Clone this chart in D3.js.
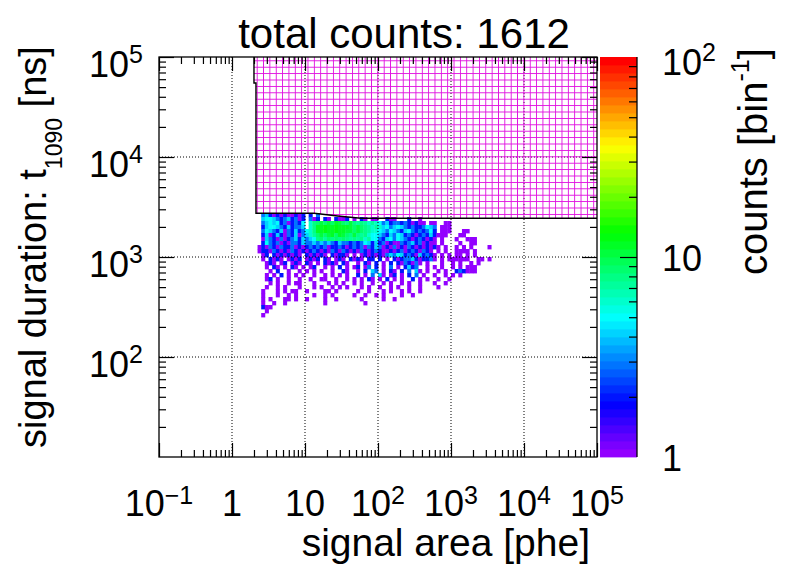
<!DOCTYPE html>
<html>
<head>
<meta charset="utf-8">
<script src="https://cdn.jsdelivr.net/npm/d3@7"></script>
<style>
body { margin: 0; background: #fff; }
text { font-family: "Liberation Sans", Arial, Helvetica, sans-serif; fill: #000; }
</style>
</head>
<body>
<div id="container"></div>
<script>
/* CONSTANTS AND GLOBALS */
const width = 796, height = 572,
  frame = { left: 159, right: 597, top: 57, bottom: 457 },
  bar = { left: 600, right: 637 };

// histogram binning: log bins, 20 per decade in x from 0.1, 25 per decade in y from 10
const xBinsPerDecade = 20, yBinsPerDecade = 25;
const firstXBin = 27;   // column 0 of the rows below
const topYBin = 60;     // row 0 of the rows below

// counts per bin, one string per y bin (top row first), base-36 digit per x bin, "." = empty
const countRows = [
  ".342121211212.2." + "3",
  ".455432342312.31" + "2.21.2112.1.21.1" + "1..211...2..1",
  ".345452312325.68" + "9a9a9ba98a878767" + "65342332321211.1" + "1..11",
  ".245543242334.68" + "bcdbcdcbba9a9876" + "7645345432322354" + "3.111",
  ".354324132423568" + "bcdcbdcbaa9a9876" + "6543543245323235" + "2.111...11",
  ".241242132413467" + "9a9ab9ba98a87865" + "5432435423212324" + "2111...11",
  ".143213123424345" + "8979898987878675" + "5324535432123212" + "1.1...1..111",
  ".253231213324334" + "3434324332323542" + "4231211323423121" + "1.1....1..11",
  "1213213223121232" + "3231223212323132" + "4312131213212121" + "21.1..1.1.1....1",
  "1221321213212123" + "2121321321213212" + "3211212312321321" + ".1.1..1111.1",
  ".12.21212121.212" + "121.21221.1.1212" + "1213435423214232" + "1.1.1.11.1.1",
  ".1.2121.1212.121" + "2.21.121.2121.22" + ".2.1.21233421223" + "1.1.111111..11.1",
  "..121.12.121.21." + "1.2121.21..1.21." + "2.1.2.2132131.1." + "..1..1.1..1.1",
  "..1.21.1.21.1.12" + "..1.1.2.1.12.13." + "2.1.3.1.2423..1." + "1.1..1.1.111",
  "...1.2..1..1.1.1" + ".1..1..21..1.2.4" + "3.1.21.2.3.41.1." + ".1.1..232111",
  "..1.1.2.1.1.1..1" + "..1.1.1.1..2.1.3" + ".41.12.1.2.3.1.." + "1..1.1.1",
  "..12.1..1..1..1." + ".11..1..1.1.1.21" + ".1.2.1.1..2.1.1." + ".1..1",
  "...1.1..1.11...1" + "...1.1.1..1.1..1" + "..1.1..1.1..1..." + "1..1",
  "..1..1.1...1...1" + ".1..1.1.1...1.1." + ".1..1.1..1..1..." + ".1",
  ".1...1.1.11..1.." + "..11.1.....1..1." + "..1.1..1.1..1",
  ".1...1..1.1....1" + "..1.1.....1..1.." + "1.1....1..1",
  ".1.1...11.1..1.." + "..1..1......1..." + "..1..1",
  ".1..1..1........" + "..1..........1",
  ".211",
  "..1",
  ".1"
];

// ROOT "pretty" palette: 50 levels, violet -> red
const paletteSize = 50;
const palette = d3.range(paletteSize).map(i => d3.hsl(280 - (i + 1) * 280 / paletteSize, 1, 0.5).formatHex());

// excluded region (hatched box), data coordinates along its outline
const cutX = [2.0, 2.0, 2.13, 2.13, 13.3, 28, 58, 1e5, 1e5];
const cutY = [1e5, 5.5e4, 5.5e4, 2740, 2740, 2570, 2440, 2440, 1e5];

// tick labels: [base, superscript]
const xTickValues = [0.1, 1, 10, 100, 1e3, 1e4, 1e5];
const xTickLabels = [["10", "\u22121"], ["1", ""], ["10", ""], ["10", "2"], ["10", "3"], ["10", "4"], ["10", "5"]];
const yTickValues = [100, 1e3, 1e4, 1e5];
const yTickLabels = [["10", "2"], ["10", "3"], ["10", "4"], ["10", "5"]];
const zTickValues = [1, 10, 100];
const zTickLabels = [["1", ""], ["10", ""], ["10", "2"]];

const titleText = "total counts: 1612";
const xTitle = "signal area [phe]";
const yTitle = ["signal duration: t", "1090", " [ns]"];
const zTitle = ["counts [bin", "-1", "]"];

/* SCALES */
const xScale = d3.scaleLog().domain([0.1, 1e5]).range([frame.left, frame.right]);
const yScale = d3.scaleLog().domain([10, 1e5]).range([frame.bottom, frame.top]);
const zScale = d3.scaleLog().domain([1, 100]).range([frame.bottom, frame.top]);

const level = n => Math.max(0, Math.min(paletteSize - 1, Math.floor(Math.log10(n) / 2 * paletteSize)));
const xEdge = b => Math.pow(10, -1 + b / xBinsPerDecade);
const yEdge = b => Math.pow(10, 1 + b / yBinsPerDecade);

// minor ticks 2..9 in every decade
const minorTicks = (lo, hi) => {
  const out = [];
  for (let e = lo; e < hi; e++) for (let m = 2; m <= 9; m++) out.push(m * Math.pow(10, e));
  return out;
};

/* SVG */
const svg = d3.select("#container").append("svg")
  .attr("width", width)
  .attr("height", height);

svg.append("rect").attr("width", width).attr("height", height).attr("fill", "#fff");

// hatch pattern for the cut region
svg.append("defs").append("pattern")
  .attr("id", "hatch")
  .attr("patternUnits", "userSpaceOnUse")
  .attr("width", 6.35).attr("height", 6.4)
  .append("path")
  .attr("d", "M0,3.2H6.35M3.17,0V6.4")
  .attr("stroke", "#e010e0")
  .attr("stroke-width", 1)
  .attr("shape-rendering", "crispEdges")
  .attr("fill", "none");

/* HISTOGRAM CELLS */
const cells = [];
countRows.forEach((row, r) => {
  Array.from(row).forEach((ch, c) => {
    if (ch === ".") return;
    cells.push({ xb: firstXBin + c, yb: topYBin - r, n: parseInt(ch, 36) });
  });
});

svg.append("g").selectAll("rect")
  .data(cells)
  .join("rect")
  .attr("x", d => xScale(xEdge(d.xb)))
  .attr("width", d => xScale(xEdge(d.xb + 1)) - xScale(xEdge(d.xb)) + 0.4)
  .attr("y", d => yScale(yEdge(d.yb + 1)))
  .attr("height", d => yScale(yEdge(d.yb)) - yScale(yEdge(d.yb + 1)) + 0.4)
  .attr("fill", d => palette[level(d.n)]);

/* GRID */
const grid = svg.append("g")
  .attr("stroke", "#000")
  .attr("stroke-width", 1)
  .attr("stroke-dasharray", "1,2");
grid.selectAll("line.gx")
  .data(xTickValues.slice(1, -1))
  .join("line")
  .attr("x1", d => xScale(d)).attr("x2", d => xScale(d))
  .attr("y1", frame.top).attr("y2", frame.bottom);
grid.selectAll("line.gy")
  .data(yTickValues.slice(0, -1))
  .join("line")
  .attr("y1", d => yScale(d)).attr("y2", d => yScale(d))
  .attr("x1", frame.left).attr("x2", frame.right);

/* CUT REGION */
const cutPts = cutX.map((x, i) => [xScale(x), yScale(cutY[i])]);
svg.append("path")
  .attr("d", d3.line()(cutPts) + "Z")
  .attr("fill", "url(#hatch)");
svg.append("path")
  .attr("d", d3.line()(cutPts.slice(0, -1)))
  .attr("fill", "none")
  .attr("stroke", "#000")
  .attr("stroke-width", 1.4);

/* AXES (inward ticks on all four sides) */
function ticks(axisFn, scale, values, size, transform) {
  svg.append("g")
    .attr("transform", transform)
    .call(axisFn(scale).tickValues(values).tickSize(size).tickFormat(""))
    .call(g => g.select(".domain").remove())
    .selectAll("line").attr("stroke", "#000").attr("stroke-width", 1.2);
}
const xMinor = minorTicks(-1, 5), yMinor = minorTicks(1, 5);
ticks(d3.axisTop, xScale, xMinor, 7, `translate(0,${frame.bottom})`);
ticks(d3.axisTop, xScale, xTickValues, 14, `translate(0,${frame.bottom})`);
ticks(d3.axisBottom, xScale, xMinor, 7, `translate(0,${frame.top})`);
ticks(d3.axisBottom, xScale, xTickValues, 14, `translate(0,${frame.top})`);
ticks(d3.axisRight, yScale, yMinor, 7, `translate(${frame.left},0)`);
ticks(d3.axisRight, yScale, yTickValues, 15, `translate(${frame.left},0)`);
ticks(d3.axisLeft, yScale, yMinor, 7, `translate(${frame.right},0)`);
ticks(d3.axisLeft, yScale, yTickValues, 15, `translate(${frame.right},0)`);

svg.append("rect")
  .attr("x", frame.left).attr("y", frame.top)
  .attr("width", frame.right - frame.left)
  .attr("height", frame.bottom - frame.top)
  .attr("fill", "none").attr("stroke", "#000").attr("stroke-width", 1.3);

/* TICK LABELS */
function label(g, base, sup, supSize, supShift) {
  g.append("tspan").text(base);
  if (sup) g.append("tspan").attr("font-size", supSize).attr("dy", -supShift).text(sup);
}
xTickValues.forEach((v, i) => {
  const t = svg.append("text")
    .attr("x", xScale(v)).attr("y", 516)
    .attr("font-size", 36).attr("text-anchor", "middle");
  label(t, xTickLabels[i][0], xTickLabels[i][1], 25, 12);
});
yTickValues.forEach((v, i) => {
  const t = svg.append("text")
    .attr("x", 143).attr("y", yScale(v) + 20)
    .attr("font-size", 36).attr("text-anchor", "end");
  label(t, yTickLabels[i][0], yTickLabels[i][1], 25, 14);
});

/* COLOR BAR */
const bands = d3.range(paletteSize);
svg.append("g").selectAll("rect")
  .data(bands)
  .join("rect")
  .attr("x", bar.left)
  .attr("width", bar.right - bar.left)
  .attr("y", i => zScale(Math.pow(10, (i + 1) * 2 / paletteSize)))
  .attr("height", i => zScale(Math.pow(10, i * 2 / paletteSize)) - zScale(Math.pow(10, (i + 1) * 2 / paletteSize)) + 0.4)
  .attr("fill", i => palette[i]);

ticks(d3.axisLeft, zScale, [2, 3, 4, 5, 6, 7, 8, 9, 20, 30, 40, 50, 60, 70, 80, 90], 8, `translate(${bar.right},0)`);
ticks(d3.axisLeft, zScale, [10], 17, `translate(${bar.right},0)`);
svg.append("line")
  .attr("x1", bar.right).attr("x2", bar.right)
  .attr("y1", frame.top).attr("y2", frame.bottom)
  .attr("stroke", "#000").attr("stroke-width", 1.3);

zTickValues.forEach((v, i) => {
  const t = svg.append("text")
    .attr("x", 662).attr("y", zScale(v) + (zTickLabels[i][1] ? 18 : 14))
    .attr("font-size", 36);
  label(t, zTickLabels[i][0], zTickLabels[i][1], 25, 14);
});

/* TITLES */
svg.append("text")
  .attr("x", 404).attr("y", 48)
  .attr("font-size", 42).attr("text-anchor", "middle")
  .text(titleText);

svg.append("text")
  .attr("x", 590).attr("y", 556)
  .attr("font-size", 39).attr("text-anchor", "end")
  .text(xTitle);

const yt = svg.append("text")
  .attr("transform", "translate(46,448) rotate(-90)")
  .attr("font-size", 38);
yt.append("tspan").text(yTitle[0]);
yt.append("tspan").attr("font-size", 23).attr("dy", 16).text(yTitle[1]);
yt.append("tspan").attr("dy", -16).text(yTitle[2]);

const zt = svg.append("text")
  .attr("transform", "translate(767,275) rotate(-90)")
  .attr("font-size", 40);
zt.append("tspan").text(zTitle[0]);
zt.append("tspan").attr("font-size", 25).attr("dy", -18).text(zTitle[1]);
zt.append("tspan").attr("dy", 18).text(zTitle[2]);
</script>
</body>
</html>
